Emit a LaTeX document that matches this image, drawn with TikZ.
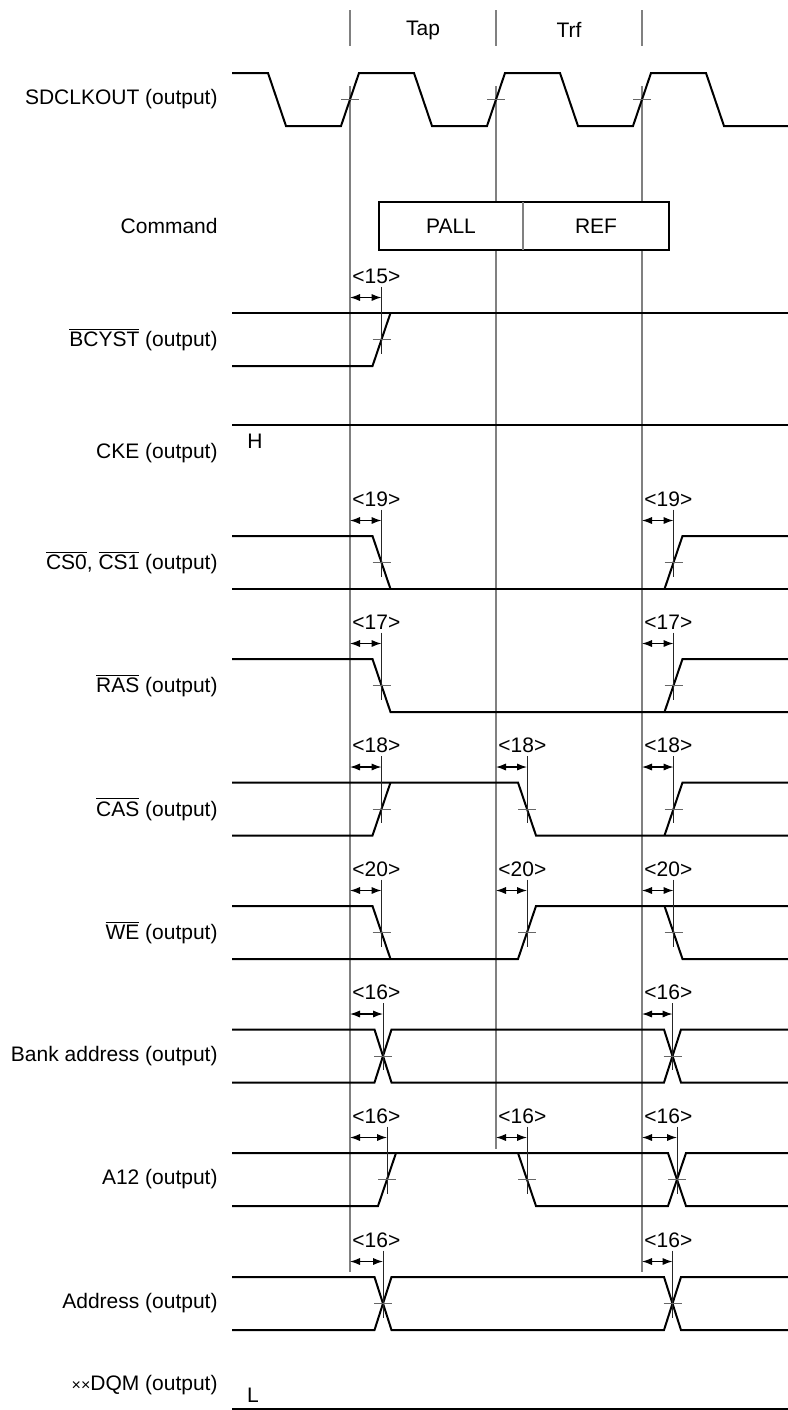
\documentclass[tikz,border=0pt]{standalone}
\usepackage{fontspec}
\setmainfont{Liberation Sans}
\usetikzlibrary{arrows.meta}

\newcommand{\ovl}[1]{$\overline{\mbox{#1}}$}
% delay mark: name, from x, to x, high y, low y, text
\newcommand{\dly}[6]{%
  \node[dlbl] (#1) at (#2,#4-37) {#6};
  \draw[dspan] (#2,#4-15.5) -- (#3,#4-15.5);
  \draw[mrk] (#3,#4-26.5) -- (#3,{(#4+#5)/2+14});
  \draw[crs] (#3-9,{(#4+#5)/2}) -- (#3+9,{(#4+#5)/2});
}

\begin{document}
\begin{tikzpicture}[x=0.5pt,y=-0.5pt,
    every node/.style={font=\fontsize{10.5}{12.6}\selectfont},
    wave/.style={line width=1pt},
    gridline/.style={gray,line width=0.6pt},
    crs/.style={black!60,line width=0.5pt},
    mrk/.style={black!85,line width=0.5pt},
    dspan/.style={<->,>={Latex[length=5pt,width=3.6pt]},line width=0.6pt},
    lbl/.style={anchor=east,inner sep=0pt},
    dlbl/.style={anchor=west,inner sep=1pt}]
\useasboundingbox (0,0) rectangle (788,1410);

\foreach \x in {350,496,642} \draw[gridline] (\x,10) -- (\x,46);
\node (tap) at (423,30) {Tap};
\node (trf) at (569,30) {Trf};
\foreach \x in {350,642} \draw[gridline] (\x,86) -- (\x,1272);
\draw[gridline] (496,86) -- (496,1149);

\node[lbl] (clk) at (218,99.5) {SDCLKOUT (output)};
\draw[wave] (232,73) -- (268,73) -- (286,126) -- (341,126) -- (359,73) -- (414,73)
  -- (432,126) -- (487,126) -- (505,73) -- (560,73) -- (578,126) -- (633,126)
  -- (651,73) -- (706,73) -- (724,126) -- (788,126);
\foreach \x in {350,496,642} \draw[crs] (\x-9,99.5) -- (\x+9,99.5);

\node[lbl] (cmd) at (218,225.8) {Command};
\draw[wave,fill=white] (379,202) rectangle (669,249.5);
\draw[gridline] (523,202) -- (523,249.5);
\node (pall) at (451,225.8) {PALL};
\node (ref) at (596,225.8) {REF};

\node[lbl] (bcyst) at (218,339.5) {\ovl{BCYST} (output)};
\draw[wave] (232,313) -- (788,313);
\draw[wave] (232,366) -- (372.5,366) -- (390.5,313);
\dly{d15}{350}{381.5}{313}{366}{<15>}

\node[lbl] (cke) at (218,453) {CKE (output)};
\draw[wave] (232,425) -- (788,425);
\node (hi) at (255,441.7) {H};

\node[lbl] (cs) at (218,562.5) {\ovl{CS0}, \ovl{CS1} (output)};
\draw[wave] (232,536) -- (372.5,536) -- (390.5,589);
\draw[wave] (232,589) -- (788,589);
\draw[wave] (664.5,589) -- (682.5,536) -- (788,536);
\dly{d19a}{350}{381.5}{536}{589}{<19>}
\dly{d19b}{642}{673.5}{536}{589}{<19>}

\node[lbl] (ras) at (218,685.5) {\ovl{RAS} (output)};
\draw[wave] (232,659) -- (372.5,659) -- (390.5,712) -- (788,712);
\draw[wave] (664.5,712) -- (682.5,659) -- (788,659);
\dly{d17a}{350}{381.5}{659}{712}{<17>}
\dly{d17b}{642}{673.5}{659}{712}{<17>}

\node[lbl] (cas) at (218,809) {\ovl{CAS} (output)};
\draw[wave] (232,835.5) -- (372.5,835.5) -- (390.5,782.5);
\draw[wave] (232,782.5) -- (518,782.5) -- (536,835.5) -- (788,835.5);
\draw[wave] (664.5,835.5) -- (682.5,782.5) -- (788,782.5);
\dly{d18a}{350}{381.5}{782.5}{835.5}{<18>}
\dly{d18b}{496}{527}{782.5}{835.5}{<18>}
\dly{d18c}{642}{673.5}{782.5}{835.5}{<18>}

\node[lbl] (we) at (218,932.5) {\ovl{WE} (output)};
\draw[wave] (232,906) -- (372.5,906) -- (390.5,959);
\draw[wave] (232,959) -- (518,959) -- (536,906) -- (788,906);
\draw[wave] (664.5,906) -- (682.5,959) -- (788,959);
\dly{d20a}{350}{381.5}{906}{959}{<20>}
\dly{d20b}{496}{527}{906}{959}{<20>}
\dly{d20c}{642}{673.5}{906}{959}{<20>}

\node[lbl] (bank) at (218,1056) {Bank address (output)};
\draw[wave] (232,1029.5) -- (374.5,1029.5) -- (391.5,1082.5) -- (664,1082.5) -- (681,1029.5) -- (788,1029.5);
\draw[wave] (232,1082.5) -- (374.5,1082.5) -- (391.5,1029.5) -- (664,1029.5) -- (681,1082.5) -- (788,1082.5);
\dly{d16a}{350}{383}{1029.5}{1082.5}{<16>}
\dly{d16b}{642}{672.5}{1029.5}{1082.5}{<16>}

\node[lbl] (a12) at (218,1179.5) {A12 (output)};
\draw[wave] (232,1206) -- (378,1206) -- (396,1153);
\draw[wave] (232,1153) -- (668,1153) -- (686,1206) -- (788,1206);
\draw[wave] (518,1153) -- (536,1206) -- (668,1206) -- (686,1153) -- (788,1153);
\dly{d16c}{350}{387}{1153}{1206}{<16>}
\dly{d16d}{496}{527}{1153}{1206}{<16>}
\dly{d16e}{642}{677}{1153}{1206}{<16>}

\node[lbl] (addr) at (218,1303.5) {Address (output)};
\draw[wave] (232,1277) -- (374.5,1277) -- (391.5,1330) -- (664,1330) -- (681,1277) -- (788,1277);
\draw[wave] (232,1330) -- (374.5,1330) -- (391.5,1277) -- (664,1277) -- (681,1330) -- (788,1330);
\dly{d16f}{350}{383}{1277}{1330}{<16>}
\dly{d16g}{642}{672.5}{1277}{1330}{<16>}

\node[lbl] (dqm) at (218,1385) {{\fontsize{8}{10}\selectfont ××}DQM (output)};
\draw[wave] (232,1408.8) -- (788,1408.8);
\node (lo) at (253,1395.7) {L};
\end{tikzpicture}
\end{document}
